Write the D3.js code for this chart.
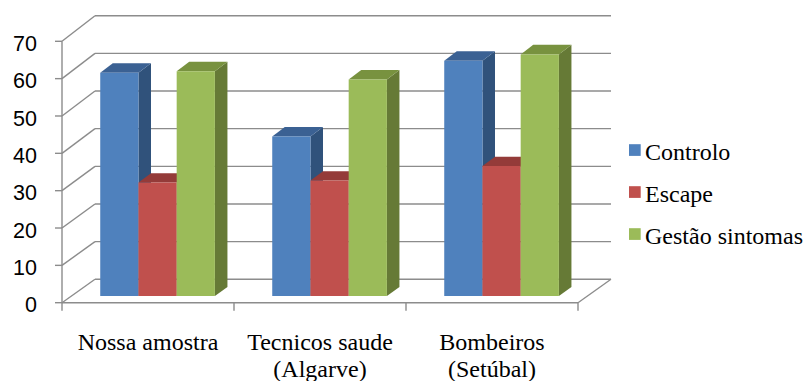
<!DOCTYPE html>
<html>
<head>
<meta charset="utf-8">
<script src="https://cdn.jsdelivr.net/npm/d3@7"></script>
<style>
  html, body { margin: 0; padding: 0; background: #fff; }
  svg { display: block; }
</style>
</head>
<body>
<svg id="chart" width="805" height="381"></svg>
<script>
// Categories (line breaks split long labels) and the three series
const categories = ["Nossa amostra", "Tecnicos saude\n(Algarve)", "Bombeiros\n(Setúbal)"];
const seriesNames = ["Controlo", "Escape", "Gestão sintomas"];
const controlo = [59.6, 42.6, 62.8];
const escape = [30.3, 30.8, 34.7];
const gestao = [60.0, 57.8, 64.5];
const yTicks = [0, 10, 20, 30, 40, 50, 60, 70];

const seriesValues = [controlo, escape, gestao];
// face colours per series: front, top, side
const palette = [
  { front: "#4F81BD", top: "#3B6193", side: "#30527B" },
  { front: "#C0504D", top: "#943B39", side: "#8A3432" },
  { front: "#9BBB59", top: "#78923F", side: "#667A36" }
];

const svg = d3.select("#chart");
const gridColor = "#8C8C8C";
const serif = "'Liberation Serif', 'Times New Roman', serif";

// front plane and back plane of the 3D box
const xFront = d3.scaleBand().domain(categories).range([62, 578]).padding(0);
const DX = 33;                                   // horizontal depth shift
const yFront = d3.scaleLinear().domain([0, 70]).range([302.7, 41.3]);
const yBack = d3.scaleLinear().domain([0, 70]).range([279.3, 15.7]);

// project a point (x on front plane, value, depth z in [0,1])
function P(x, v, z) {
  return [x + z * DX, yFront(v) * (1 - z) + yBack(v) * z];
}

const g = svg.append("g");

// left wall diagonals
g.selectAll("line.wall").data(yTicks).join("line")
  .attr("x1", 62).attr("y1", d => yFront(d))
  .attr("x2", 62 + DX).attr("y2", d => yBack(d))
  .attr("stroke", gridColor).attr("stroke-width", 1.4);

// back wall gridlines
g.selectAll("line.grid").data(yTicks).join("line")
  .attr("x1", 62 + DX).attr("y1", d => yBack(d))
  .attr("x2", 578 + DX).attr("y2", d => yBack(d))
  .attr("stroke", gridColor).attr("stroke-width", 1.4);

// floor front edge and right edge
g.append("line").attr("x1", 62).attr("y1", yFront(0)).attr("x2", 578).attr("y2", yFront(0))
  .attr("stroke", gridColor).attr("stroke-width", 1.4);
g.append("line").attr("x1", 578).attr("y1", yFront(0)).attr("x2", 578 + DX).attr("y2", yBack(0))
  .attr("stroke", gridColor).attr("stroke-width", 1.4);

// vertical axis and its ticks
g.append("line").attr("x1", 62).attr("y1", yFront(70)).attr("x2", 62).attr("y2", yFront(0))
  .attr("stroke", gridColor).attr("stroke-width", 1.4);
g.selectAll("line.ytick").data(yTicks).join("line")
  .attr("x1", 55).attr("x2", 62)
  .attr("y1", d => yFront(d)).attr("y2", d => yFront(d))
  .attr("stroke", gridColor).attr("stroke-width", 1.4);

// category ticks at band boundaries
const catEdges = categories.map(c => xFront(c)).concat([xFront.range()[1]]);
g.selectAll("line.xtick").data(catEdges).join("line")
  .attr("x1", d => d).attr("x2", d => d)
  .attr("y1", yFront(0)).attr("y2", yFront(0) + 8)
  .attr("stroke", gridColor).attr("stroke-width", 1.4);

// y tick labels
g.selectAll("text.ylab").data(yTicks).join("text")
  .attr("x", 37).attr("y", d => yFront(d) + 9.7)
  .attr("text-anchor", "end")
  .attr("font-family", "'Liberation Sans', Arial, sans-serif")
  .attr("font-size", 21.5).attr("fill", "#000")
  .text(d => d);

// bars: 3 per category, gap 150% of bar width
const bw = xFront.bandwidth();
const barW = bw / 4.5;
const xInner = d3.scaleBand().domain(d3.range(seriesNames.length)).range([0, barW * 3]).padding(0);
const z0 = 0.29, z1 = 0.67;

const bars = [];
categories.forEach((c, i) => {
  seriesValues.forEach((vals, j) => {
    bars.push({ cat: c, s: j, v: vals[i] });
  });
});

const poly = pts => pts.map(p => p.join(",")).join(" ");

const barG = g.selectAll("g.bar").data(bars).join("g");
barG.each(function (d) {
  const sel = d3.select(this);
  const xl = xFront(d.cat) + barW * 0.75 + xInner(d.s);
  const xr = xl + xInner.bandwidth();
  const col = palette[d.s];
  sel.append("polygon")
    .attr("points", poly([P(xr, 0, z0), P(xr, 0, z1), P(xr, d.v, z1), P(xr, d.v, z0)]))
    .attr("fill", col.side);
  sel.append("polygon")
    .attr("points", poly([P(xl, d.v, z0), P(xr, d.v, z0), P(xr, d.v, z1), P(xl, d.v, z1)]))
    .attr("fill", col.top);
  sel.append("polygon")
    .attr("points", poly([P(xl, 0, z0), P(xr, 0, z0), P(xr, d.v, z0), P(xl, d.v, z0)]))
    .attr("fill", col.front);
});

// category labels
const catLab = g.selectAll("text.xlab").data(categories).join("text")
  .attr("text-anchor", "middle")
  .attr("font-family", serif)
  .attr("font-size", 24).attr("fill", "#000");
catLab.each(function (c) {
  const t = d3.select(this);
  c.split("\n").forEach((line, k) => {
    t.append("tspan")
      .attr("x", xFront(c) + bw / 2)
      .attr("y", 350 + k * 26.5)
      .text(line);
  });
});

// legend
const legend = g.selectAll("g.legend").data(seriesNames).join("g")
  .attr("transform", (d, i) => `translate(629, ${150 + i * 42})`);
legend.append("rect")
  .attr("x", 0).attr("y", -5.8).attr("width", 11.7).attr("height", 11.7)
  .attr("fill", (d, i) => palette[i].front);
legend.append("text")
  .attr("x", 16).attr("y", 9.5)
  .attr("font-family", serif)
  .attr("font-size", 24).attr("fill", "#000")
  .text(d => d);
</script>
</body>
</html>
